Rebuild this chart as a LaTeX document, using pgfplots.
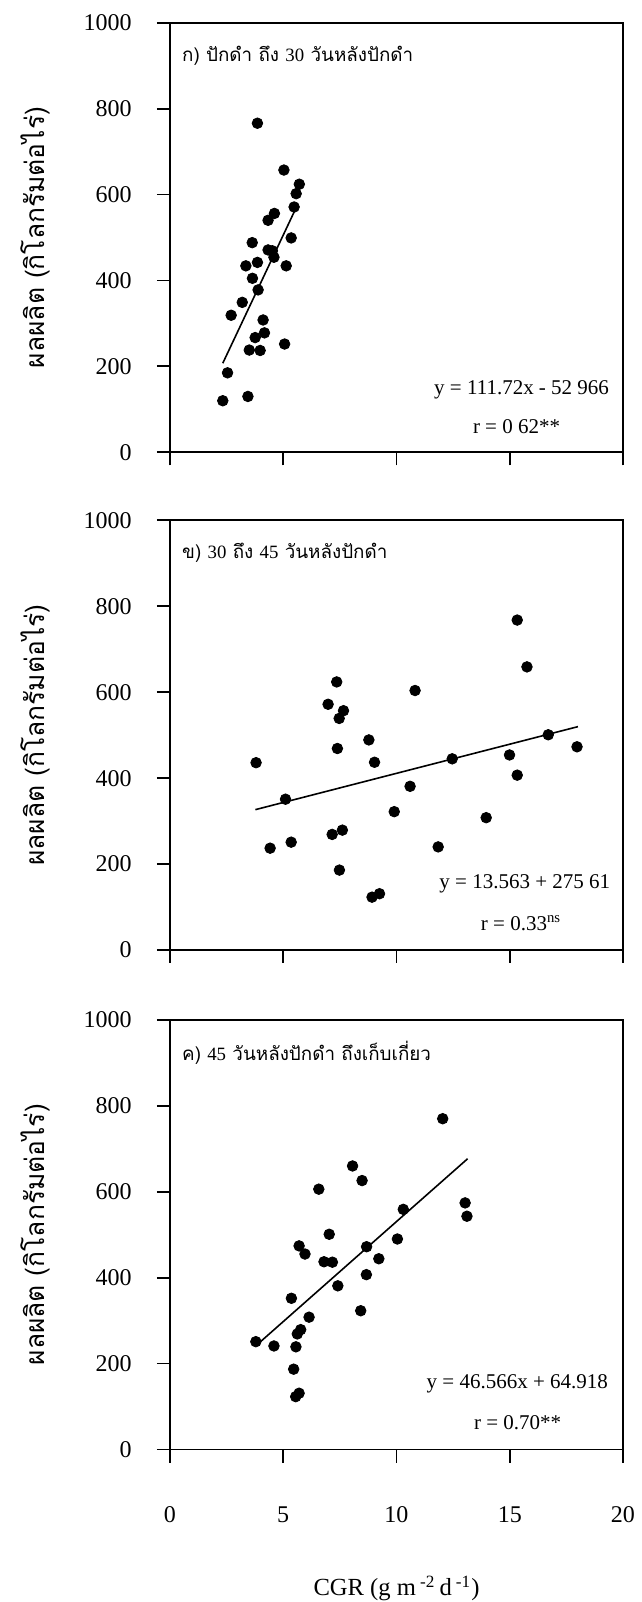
\documentclass[border=0pt]{standalone}
\usepackage{fontspec}
\setmainfont{Liberation Serif}
\newfontfamily\thai[Script=Thai]{Loma}
\usepackage{pgfplots}
\pgfplotsset{compat=1.18}
\tikzset{
  eq/.style={font=\fontsize{10.5}{12}\selectfont, inner sep=0pt},
  ttl/.style={font=\fontsize{9.4}{11}\selectfont, inner sep=0pt, anchor=west},
  scat/.style={only marks, mark=*, mark size=2.65pt, color=black},
  fit/.style={black, line width=0.8pt},
}
\pgfplotsset{
  panel/.style={
    scale only axis, width=226.5pt, height=214.8pt,
    anchor=south west,
    xmin=0, xmax=20, ymin=0, ymax=1000,
    xtick={0,5,10,15,20}, ytick={0,200,400,600,800,1000},
    tick align=outside, xtick pos=bottom, ytick pos=left,
    axis line style={line width=0.9pt},
    major tick length=6.5pt,
    tick style={black, line width=0.9pt},
    /pgf/number format/assume math mode=true,
    /pgf/number format/1000 sep={},
    ticklabel style={font=\fontsize{12}{14}\selectfont},
    yticklabel style={anchor=east, inner sep=0pt, xshift=-12.5pt},
    xticklabel style={anchor=center, inner sep=0pt, yshift=-26pt},
    ylabel={{\thai ผลผลิต (กิโลกรัมต่อไร่)}},
    ylabel style={at={(axis description cs:0,0.5)}, anchor=center, yshift=67.5pt, font=\fontsize{13.2}{15}\selectfont},
    clip=false,
  },
}
\begin{document}
\begin{tikzpicture}
% ---------- panel 1 ----------
\begin{axis}[panel, at={(0,498.6pt)}, xticklabels={}]
\addplot[scat] coordinates {
(3.86,766) (5.03,657) (5.71,624) (5.57,602) (5.48,571) (4.61,556) (4.33,540)
(5.35,499) (3.63,488) (4.33,471) (4.52,469) (4.59,454) (3.35,434) (3.86,442)
(5.13,434) (3.64,405) (3.89,378) (3.19,349) (2.70,319) (4.11,308) (4.17,278)
(3.76,267) (3.50,238) (3.98,237) (5.06,252) (2.54,185) (3.44,130) (2.33,120)
};
\addplot[fit, no marks] coordinates {(2.33,207.3) (5.55,567.1)};
\node[ttl] at (axis cs:0.52,924) {{\thai ก) ปักดำ ถึง }30{\thai\ วันหลังปักดำ}};
\node[eq, anchor=east] at (axis cs:19.4,145) {y = 111.72x - 52 966};
\node[eq, anchor=center] at (axis cs:15.3,60) {r = 0 62**};
\end{axis}
% ---------- panel 2 ----------
\begin{axis}[panel, at={(0,249.75pt)}, xticklabels={}]
\addplot[scat] coordinates {
(15.33,768) (15.76,659) (7.36,624) (10.82,604) (6.98,572) (7.66,557) (7.47,539)
(8.78,489) (7.39,469) (16.70,501) (17.97,473) (14.99,454) (3.80,436) (9.03,437)
(12.46,445) (15.33,407) (10.60,381) (5.10,351) (9.90,322) (13.96,308) (7.61,279)
(7.16,269) (5.35,251) (4.42,237) (11.84,240) (7.48,186) (8.92,123) (9.25,131)
};
\addplot[fit, no marks] coordinates {(3.77,326.7) (18.01,519.9)};
\node[ttl] at (axis cs:0.52,924) {{\thai ข) }30{\thai\ ถึง }45{\thai\ วันหลังปักดำ}};
\node[eq, anchor=east] at (axis cs:19.45,154) {y = 13.563 + 275 61};
\node[eq, anchor=center] at (axis cs:15.5,62) {r = 0.33\textsuperscript{ns}};
\end{axis}
% ---------- panel 3 ----------
\begin{axis}[panel, at={(0,0pt)},
  xlabel={CGR (g m\,\textsuperscript{-2}\,d\,\textsuperscript{-1})},
  xlabel style={at={(axis description cs:0.5,0)}, anchor=center, yshift=-69.5pt, font=\fontsize{12.3}{14}\selectfont}]
\addplot[scat] coordinates {
(12.04,770) (8.06,660) (8.48,626) (6.57,606) (13.03,574) (13.11,543) (10.30,559)
(7.03,501) (10.04,490) (5.70,474) (8.68,472) (5.96,455) (9.22,444) (6.80,437)
(7.17,436) (8.67,407) (7.41,381) (5.36,352) (6.14,308) (8.42,323) (5.77,279)
(5.62,269) (3.79,251) (4.59,241) (5.56,239) (5.46,187) (5.55,123) (5.70,131)
};
\addplot[fit, no marks] coordinates {(3.79,241.4) (13.14,676.8)};
\node[ttl] at (axis cs:0.52,924) {{\thai ค) }45{\thai\ วันหลังปักดำ ถึงเก็บเกี่ยว}};
\node[eq, anchor=east] at (axis cs:19.35,152) {y = 46.566x + 64.918};
\node[eq, anchor=center] at (axis cs:15.35,62) {r = 0.70**};
\end{axis}
\pgfresetboundingbox
\path[use as bounding box] (-85pt,-76.25pt) rectangle (236pt,724.75pt);
\end{tikzpicture}
\end{document}
